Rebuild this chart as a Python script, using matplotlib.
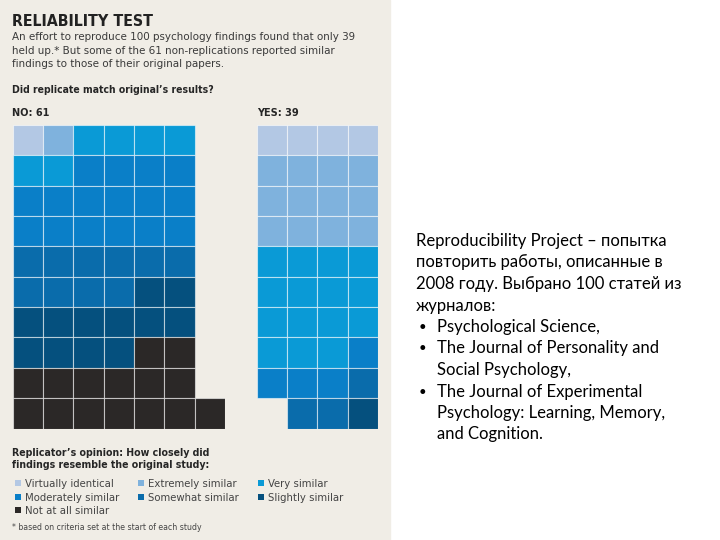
import numpy as np
import matplotlib
matplotlib.use('Agg')
import matplotlib.pyplot as plt
from matplotlib.patches import Rectangle

# Datos: grado de similitud segun el replicador (orden de la leyenda)
categorias = ['Virtually identical', 'Extremely similar', 'Very similar',
              'Moderately similar', 'Somewhat similar', 'Slightly similar',
              'Not at all similar']
colores = ['#b3c8e4', '#7fb2dd', '#0a9ad6', '#0a7fc8', '#0a6cab', '#05507e', '#2b2827']
conteo_no = [1, 1, 6, 16, 10, 12, 15]   # NO: 61
conteo_si = [4, 12, 15, 4, 3, 1, 0]     # YES: 39

texto_derecha = ['Reproducibility Project – попытка',
                 'повторить работы, описанные в',
                 '2008 году. Выбрано 100 статей из',
                 'журналов:']
revistas = ['Psychological Science,',
            'The Journal of Personality and\nSocial Psychology,',
            'The Journal of Experimental\nPsychology: Learning, Memory,\nand Cognition.']

W, H = 720, 540
celda = 30.35
fondo = '#f0ede6'
fuente = dict(family='DejaVu Sans', fontstretch='condensed')

fig = plt.figure(figsize=(7.2, 5.4), dpi=100, facecolor='white')
fig.add_artist(Rectangle((0, 0), 390 / W, 1, transform=fig.transFigure,
                         color=fondo, zorder=0))

# eje de fondo en pixeles para los textos
ax = fig.add_axes([0, 0, 1, 1])
ax.set_xlim(0, W)
ax.set_ylim(H, 0)
ax.axis('off')
ax.patch.set_alpha(0)


def cuadricula(x0, y0, conteos, ncol, nfilas, ancho, derecha=False):
    """Dibuja los cuadros de un grupo, llenando fila por fila."""
    a = fig.add_axes([x0 / W, 1 - (y0 + nfilas * celda) / H,
                      ancho * celda / W, nfilas * celda / H])
    cat = np.repeat(np.arange(len(conteos)), conteos)
    i = np.arange(len(cat))
    fila = np.minimum(i // ncol, nfilas - 1)
    col = i - fila * ncol
    resto = len(cat) - ncol * (nfilas - 1)
    if derecha and resto < ncol:
        col[fila == nfilas - 1] += ncol - resto
    a.bar(col, 1, width=1, bottom=fila, align='edge',
          color=[colores[k] for k in cat],
          edgecolor=(1, 1, 1, 0.55), linewidth=0.8)
    a.set_xlim(0, ancho)
    a.set_ylim(nfilas, 0)
    a.axis('off')
    return a


cuadricula(12.7, 125, conteo_no, 6, 10, 7)
cuadricula(256.7, 125, conteo_si, 4, 10, 4, derecha=True)

# Titulos del grafico de la izquierda
ax.text(12, 26, 'RELIABILITY TEST', fontsize=11.4, weight='bold', color='#222222', **fuente)
sub = ['An effort to reproduce 100 psychology findings found that only 39',
       'held up.* But some of the 61 non-replications reported similar',
       'findings to those of their original papers.']
for k, s in enumerate(sub):
    ax.text(12, 40 + 13.5 * k, s, fontsize=8.25, color='#3a3a3a', **fuente)
ax.text(12, 93, 'Did replicate match original’s results?', fontsize=7.45,
        weight='bold', color='#262626', **fuente)
ax.text(12, 116, 'NO: 61', fontsize=7.8, weight='bold', color='#262626', **fuente)
ax.text(257, 116, 'YES: 39', fontsize=7.8, weight='bold', color='#262626', **fuente)

# Leyenda
ax.text(12, 456, 'Replicator’s opinion: How closely did', fontsize=7.55,
        weight='bold', color='#262626', **fuente)
ax.text(12, 468.5, 'findings resemble the original study:', fontsize=7.55,
        weight='bold', color='#262626', **fuente)
col_x = [18, 141, 261]
fila_y = [487, 501, 514]
for k, (nombre, c) in enumerate(zip(categorias, colores)):
    xs = col_x[k % 3]
    ys = fila_y[k // 3]
    ax.scatter([xs], [ys - 4], marker='s', s=18, color=c, edgecolors='none')
    ax.text(xs + 7, ys, nombre, fontsize=8.1, color='#444444', **fuente)
ax.text(12, 530, '* based on criteria set at the start of each study',
        fontsize=6.2, color='#444444', **fuente)

# Texto de la derecha
y = 246
paso = 21.5
der = dict(family=['Lato', 'DejaVu Sans'], fontsize=11.95, color='black')
for s in texto_derecha:
    ax.text(416, y, s, **der)
    y += paso
for r in revistas:
    ax.text(419, y - 1, '•', family='Lato', fontsize=9.5, color='black')
    for linea in r.split('\n'):
        ax.text(437, y, linea, **der)
        y += paso

fig.savefig('out.png', dpi=100, facecolor='white')
